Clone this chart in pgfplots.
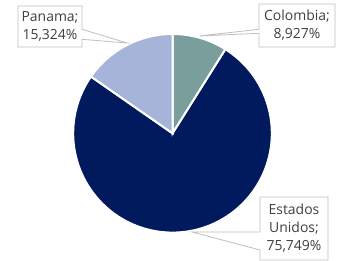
\documentclass[border=0pt]{standalone}
\usepackage{pgfplots}
\pgfplotsset{compat=1.18}
\usepackage{fontspec}
\setmainfont{Open Sans}
\definecolor{colC}{HTML}{799E9B}
\definecolor{colE}{HTML}{011A5D}
\definecolor{colP}{HTML}{A7B4D9}
\definecolor{labtxt}{HTML}{404040}
\definecolor{brd}{HTML}{BFBFBF}
% shares in percent (clockwise from 12 o'clock)
\def\vCol{8.927}
\def\vEU{75.749}
\def\vPan{15.324}
\def\R{99.3}
\pgfmathsetmacro{\aA}{90}
\pgfmathsetmacro{\aB}{90-3.6*\vCol}
\pgfmathsetmacro{\aC}{\aB-3.6*\vEU}
\pgfmathsetmacro{\aD}{\aC-3.6*\vPan}
\begin{document}
\begin{tikzpicture}
\begin{axis}[hide axis, scale only axis, width=338bp, height=261bp,
  xmin=-172.5, xmax=165.5, ymin=-127.7, ymax=133.3, clip=false, no markers]
\addplot[fill=colE, draw=white, line width=2bp, data cs=polar, domain=\aC:\aB, samples=120] {\R} -- (axis cs:0,0) -- cycle;
\addplot[fill=colC, draw=white, line width=2bp, data cs=polar, domain=\aB:\aA, samples=30] {\R} -- (axis cs:0,0) -- cycle;
\addplot[fill=colP, draw=white, line width=2bp, data cs=polar, domain=\aD:\aC, samples=40] {\R} -- (axis cs:0,0) -- cycle;
% callouts
\draw[brd, fill=white, line width=0.8bp] (axis cs:-154.5,127.3) -- (axis cs:-90.5,127.3) -- (axis cs:-90.5,104) -- (axis cs:-45.5,90.3) -- (axis cs:-90.5,94) -- (axis cs:-90.5,86.3) -- (axis cs:-154.5,86.3) -- cycle;
\draw[brd, fill=white, line width=0.8bp] (axis cs:86.5,129.3) -- (axis cs:162.5,129.3) -- (axis cs:162.5,86.3) -- (axis cs:86.5,86.3) -- (axis cs:86.5,100) -- (axis cs:26.8,97.3) -- (axis cs:86.5,104) -- cycle;
\draw[brd, fill=white, line width=0.8bp] (axis cs:87.5,-63.7) -- (axis cs:155.5,-63.7) -- (axis cs:155.5,-126.7) -- (axis cs:87.5,-126.7) -- (axis cs:87.5,-116.7) -- (axis cs:19.5,-98.7) -- (axis cs:87.5,-98.7) -- cycle;
\node[text=labtxt, align=center, font=\fontsize{14}{18}\selectfont] at (axis cs:-122.5,106.8) {Panama;\\15,324\%};
\node[text=labtxt, align=center, font=\fontsize{14}{18}\selectfont] at (axis cs:124.5,107.8) {Colombia;\\8,927\%};
\node[text=labtxt, align=center, font=\fontsize{14}{18}\selectfont] at (axis cs:121.5,-95.2) {Estados\\Unidos;\\75,749\%};
\path (axis cs:-172.5,-127.7) rectangle (axis cs:165.5,133.3);
\end{axis}
\end{tikzpicture}
\end{document}
